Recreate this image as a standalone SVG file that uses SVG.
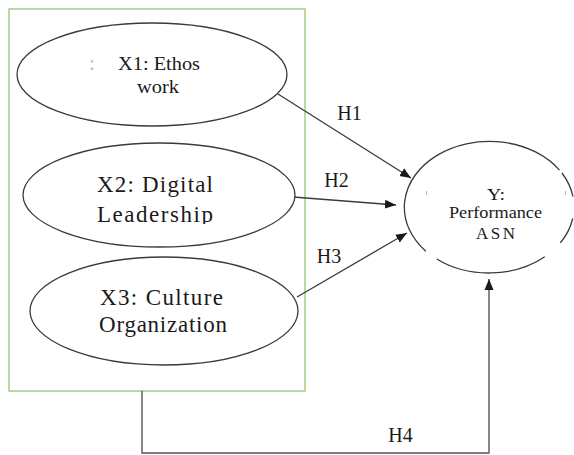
<svg xmlns="http://www.w3.org/2000/svg" width="574" height="455" viewBox="0 0 574 455">
<style>
.bg{fill:#ffffff}
.frame{fill:none;stroke:#a9d18e;stroke-width:1.6}
.node{fill:#ffffff;stroke:#3a3a3a;stroke-width:1.3}
.arc{fill:none;stroke:#3a3a3a;stroke-width:1.3}
.lbl{font-family:"Liberation Serif","Times New Roman",serif;fill:#1a1a1a;text-anchor:middle}
.edge{fill:none;stroke:#3a3a3a;stroke-width:1.3}
.edge4{fill:none;stroke:#555555;stroke-width:1.4}
.faint{stroke:#bbbbbb;stroke-width:1}
</style>
<defs>
<marker id="ah" markerUnits="userSpaceOnUse" markerWidth="12" markerHeight="10" refX="11" refY="5" orient="auto">
<path d="M0,0.5 L11,5 L0,9.5 Z" fill="#1a1a1a"/>
</marker>
<clipPath id="clipX2"><rect x="0" y="0" width="574" height="224"/></clipPath>
</defs>
<rect class="bg" x="0" y="0" width="574" height="455"/>
<g id="frame">
<rect class="frame" x="9" y="9" width="296" height="382"/>
</g>
<g id="connectors">
<line class="edge" x1="278" y1="94" x2="411" y2="178" marker-end="url(#ah)"/>
<line class="edge" x1="293" y1="197" x2="396" y2="205" marker-end="url(#ah)"/>
<line class="edge" x1="297" y1="297" x2="407" y2="233" marker-end="url(#ah)"/>
<path class="edge4" d="M142,391 V453 H489 V279" marker-end="url(#ah)"/>
</g>
<g id="node-x1">
<ellipse class="node" cx="152" cy="74.5" rx="135" ry="51.5"/>
<text class="lbl" x="92" y="70" font-size="20" fill="#b0b0b0" style="fill:#b8b8b8">:</text>
<text class="lbl" x="159" y="70" font-size="19" textLength="82" lengthAdjust="spacingAndGlyphs">X1: Ethos</text>
<text class="lbl" x="158" y="93" font-size="19" textLength="42" lengthAdjust="spacingAndGlyphs">work</text>
</g>
<g id="node-x2">
<ellipse class="node" cx="159" cy="195" rx="136" ry="52"/>
<text class="lbl" x="155" y="192" font-size="23" textLength="116" lengthAdjust="spacing">X2: Digital</text>
<text class="lbl" x="155" y="222" font-size="23" textLength="116" lengthAdjust="spacing" clip-path="url(#clipX2)">Leadership</text>
</g>
<g id="node-x3">
<ellipse class="node" cx="164" cy="311" rx="134" ry="54"/>
<text class="lbl" x="161.5" y="305" font-size="23" textLength="123" lengthAdjust="spacing">X3: Culture</text>
<text class="lbl" x="163" y="332" font-size="23" textLength="128" lengthAdjust="spacing">Organization</text>
</g>
<g id="node-y">
<path class="arc" d="M425.8,251.2 A85,66 0 1 1 559.5,170.1"/>
<path class="arc" d="M561.9,173 A85,66 0 0 1 573,196.7"/>
<path class="arc" d="M572.7,218.5 A85,66 0 0 1 560.3,242.9"/>
<path class="arc" d="M544.8,256.8 A85,66 0 0 1 436.7,259"/>
<line class="faint" x1="426.5" y1="191" x2="426.5" y2="195"/>
<line class="faint" x1="565.5" y1="191" x2="565.5" y2="195"/>
<text class="lbl" x="496" y="200" font-size="17" textLength="18" lengthAdjust="spacingAndGlyphs">Y:</text>
<text class="lbl" x="495.5" y="218" font-size="17" textLength="93" lengthAdjust="spacingAndGlyphs">Performance</text>
<text class="lbl" x="495.5" y="239" font-size="17" textLength="39" lengthAdjust="spacing">ASN</text>
</g>
<g id="labels">
<text class="lbl" x="349.5" y="120" font-size="20">H1</text>
<text class="lbl" x="336.5" y="187" font-size="20">H2</text>
<text class="lbl" x="329" y="263" font-size="20">H3</text>
<text class="lbl" x="400.5" y="442" font-size="20">H4</text>
</g>
</svg>
